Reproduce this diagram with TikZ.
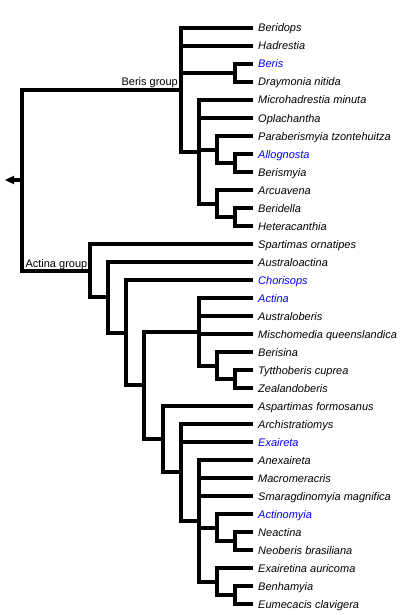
\documentclass[tikz,border=0pt]{standalone}
\usepackage{fontspec}
\setmainfont{Liberation Sans}
\definecolor{linkblue}{RGB}{0,0,255}
\begin{document}
\begin{tikzpicture}[x=1pt,y=-1pt,
  br/.style={line width=4pt, line join=miter},
  leaf/.style={anchor=west, inner xsep=5pt, inner ysep=0pt, text height=8pt, text depth=0pt,
               font=\fontsize{11}{13}\selectfont\itshape},
  hl/.style={text=linkblue},
  grp/.style={font=\fontsize{11}{13}\selectfont, inner sep=0pt, anchor=base east}]
\useasboundingbox (0,0) rectangle (399,615);

% leaves
\node[leaf]    (l1)  at (253,28)  {Beridops};
\node[leaf]    (l2)  at (253,46)  {Hadrestia};
\node[leaf,hl] (l3)  at (253,64)  {Beris};
\node[leaf]    (l4)  at (253,82)  {Draymonia nitida};
\node[leaf]    (l5)  at (253,100) {Microhadrestia minuta};
\node[leaf]    (l6)  at (253,118) {Oplachantha};
\node[leaf]    (l7)  at (253,136) {Paraberismyia tzontehuitza};
\node[leaf,hl] (l8)  at (253,154) {Allognosta};
\node[leaf]    (l9)  at (253,172) {Berismyia};
\node[leaf]    (l10) at (253,190) {Arcuavena};
\node[leaf]    (l11) at (253,208) {Beridella};
\node[leaf]    (l12) at (253,226) {Heteracanthia};
\node[leaf]    (l13) at (253,244) {Spartimas ornatipes};
\node[leaf]    (l14) at (253,262) {Australoactina};
\node[leaf,hl] (l15) at (253,280) {Chorisops};
\node[leaf,hl] (l16) at (253,298) {Actina};
\node[leaf]    (l17) at (253,316) {Australoberis};
\node[leaf]    (l18) at (253,334) {Mischomedia queenslandica};
\node[leaf]    (l19) at (253,352) {Berisina};
\node[leaf]    (l20) at (253,370) {Tytthoberis cuprea};
\node[leaf]    (l21) at (253,388) {Zealandoberis};
\node[leaf]    (l22) at (253,406) {Aspartimas formosanus};
\node[leaf]    (l23) at (253,424) {Archistratiomys};
\node[leaf,hl] (l24) at (253,442) {Exaireta};
\node[leaf]    (l25) at (253,460) {Anexaireta};
\node[leaf]    (l26) at (253,478) {Macromeracris};
\node[leaf]    (l27) at (253,496) {Smaragdinomyia magnifica};
\node[leaf,hl] (l28) at (253,514) {Actinomyia};
\node[leaf]    (l29) at (253,532) {Neactina};
\node[leaf]    (l30) at (253,550) {Neoberis brasiliana};
\node[leaf]    (l31) at (253,568) {Exairetina auricoma};
\node[leaf]    (l32) at (253,586) {Benhamyia};
\node[leaf]    (l33) at (253,604) {Eumecacis clavigera};

% internal nodes
\coordinate (bg) at (181,89.9);
\coordinate (b1) at (235,73);
\coordinate (b2) at (199,151.75);
\coordinate (b3) at (217,149.5);
\coordinate (b4) at (235,163);
\coordinate (b5) at (217,203.5);
\coordinate (b6) at (235,217);
\coordinate (ag) at (90,270.7);
\coordinate (a1) at (108,297.3);
\coordinate (a2) at (126,332.7);
\coordinate (a3) at (144,385.4);
\coordinate (ac) at (199,331.5);
\coordinate (ac1) at (217,365.5);
\coordinate (ac2) at (235,379);
\coordinate (a4) at (163,439.2);
\coordinate (a5) at (181,472.4);
\coordinate (a6) at (199,520.75);
\coordinate (a7) at (217,527.5);
\coordinate (a8) at (235,541);
\coordinate (a9) at (217,581.5);
\coordinate (a10) at (235,595);
\coordinate (r) at (22,180);
\coordinate (stem) at (14,180);
\coordinate (tip) at (5,180);

% branches
\foreach \p/\c in {r/bg, r/ag,
  bg/l1.west, bg/l2.west, bg/b1, bg/b2,
  b1/l3.west, b1/l4.west,
  b2/l5.west, b2/l6.west, b2/b3, b2/b5,
  b3/l7.west, b3/b4, b4/l8.west, b4/l9.west,
  b5/l10.west, b5/b6, b6/l11.west, b6/l12.west,
  ag/l13.west, ag/a1, a1/l14.west, a1/a2, a2/l15.west, a2/a3,
  a3/ac, a3/a4,
  ac/l16.west, ac/l17.west, ac/l18.west, ac/ac1,
  ac1/l19.west, ac1/ac2, ac2/l20.west, ac2/l21.west,
  a4/l22.west, a4/a5,
  a5/l23.west, a5/l24.west, a5/a6,
  a6/l25.west, a6/l26.west, a6/l27.west, a6/a7, a6/a9,
  a7/l28.west, a7/a8, a8/l29.west, a8/l30.west,
  a9/l31.west, a9/a10, a10/l32.west, a10/l33.west}
  \draw[br] (\p) |- (\c);

% root stem and arrow
\draw[br] (r) -- (stem);
\fill (tip) -- ([shift={(9,-4.3)}]tip) -- ([shift={(9,4.3)}]tip) -- cycle;

% group labels
\node[grp] (lbB) at (178,86) {Beris group};
\node[grp] (lbA) at (87.5,267) {Actina group};
\end{tikzpicture}
\end{document}
